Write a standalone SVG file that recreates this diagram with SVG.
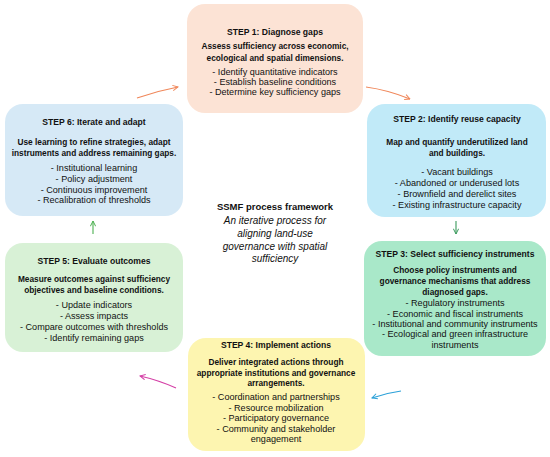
<svg xmlns="http://www.w3.org/2000/svg" width="550" height="457" viewBox="0 0 550 457">
<defs>
<style>
text{font-family:"Liberation Sans",Arial,sans-serif;text-anchor:middle;fill:#111;}
.t{font-weight:bold;font-size:8.6px;}
.s{font-weight:bold;font-size:8.3px;}
.b{font-size:9.1px;}
.ct{font-weight:bold;font-size:9.5px;}
.ci{font-style:italic;font-size:10px;}
.box{stroke:none;}
.arr{fill:none;stroke-width:1.1;}
</style>
<marker id="mo" viewBox="0 0 10 10" refX="9" refY="5" markerWidth="6" markerHeight="6" orient="auto"><path d="M1,1 L9,5 L1,9" fill="none" stroke="#f0875a" stroke-width="1.5"/></marker>
<marker id="mg" viewBox="0 0 10 10" refX="9" refY="5" markerWidth="6" markerHeight="6" orient="auto"><path d="M1,1 L9,5 L1,9" fill="none" stroke="#3a9a5c" stroke-width="1.5"/></marker>
<marker id="mb" viewBox="0 0 10 10" refX="9" refY="5" markerWidth="6" markerHeight="6" orient="auto"><path d="M1,1 L9,5 L1,9" fill="none" stroke="#2aa0d8" stroke-width="1.5"/></marker>
<marker id="mm" viewBox="0 0 10 10" refX="9" refY="5" markerWidth="6" markerHeight="6" orient="auto"><path d="M1,1 L9,5 L1,9" fill="none" stroke="#d43fa6" stroke-width="1.5"/></marker>
<marker id="ml" viewBox="0 0 10 10" refX="9" refY="5" markerWidth="6" markerHeight="6" orient="auto"><path d="M1,1 L9,5 L1,9" fill="none" stroke="#4cb050" stroke-width="1.5"/></marker>
</defs>
<rect width="550" height="457" fill="#fff"/>

<g id="step1">
<rect class="box" x="187" y="4" width="176" height="109" rx="18" fill="#fce3d5"/>
<text class="t" x="275" y="35">STEP 1: Diagnose gaps</text>
<text class="s" x="275" y="49">Assess sufficiency across economic,</text>
<text class="s" x="275" y="61">ecological and spatial dimensions.</text>
<text class="b" x="275" y="75">- Identify quantitative indicators</text>
<text class="b" x="275" y="85">- Establish baseline conditions</text>
<text class="b" x="275" y="95">- Determine key sufficiency gaps</text>
</g>

<g id="step2">
<rect class="box" x="367" y="104" width="179" height="113" rx="18" fill="#c1eaf8"/>
<text class="t" x="457" y="122">STEP 2: Identify reuse capacity</text>
<text class="s" x="457" y="145">Map and quantify underutilized land</text>
<text class="s" x="457" y="156">and buildings.</text>
<text class="b" x="457" y="175">- Vacant buildings</text>
<text class="b" x="457" y="186">- Abandoned or underused lots</text>
<text class="b" x="457" y="197">- Brownfield and derelict sites</text>
<text class="b" x="457" y="208">- Existing infrastructure capacity</text>
</g>

<g id="step3">
<rect class="box" x="364" y="241" width="182" height="115" rx="18" fill="#a9e8c9"/>
<text class="t" x="455" y="257">STEP 3: Select sufficiency instruments</text>
<text class="s" x="455" y="273">Choose policy instruments and</text>
<text class="s" x="455" y="284">governance mechanisms that address</text>
<text class="s" x="455" y="295">diagnosed gaps.</text>
<text class="b" x="455" y="306">- Regulatory instruments</text>
<text class="b" x="455" y="317">- Economic and fiscal instruments</text>
<text class="b" x="455" y="327">- Institutional and community instruments</text>
<text class="b" x="455" y="337">- Ecological and green infrastructure</text>
<text class="b" x="455" y="348">instruments</text>
</g>

<g id="step4">
<rect class="box" x="188" y="338" width="177" height="113" rx="18" fill="#fdf5b0"/>
<text class="t" x="276" y="348">STEP 4: Implement actions</text>
<text class="s" x="276" y="365">Deliver integrated actions through</text>
<text class="s" x="276" y="376">appropriate institutions and governance</text>
<text class="s" x="276" y="386">arrangements.</text>
<text class="b" x="276" y="400">- Coordination and partnerships</text>
<text class="b" x="276" y="411">- Resource mobilization</text>
<text class="b" x="276" y="421">- Participatory governance</text>
<text class="b" x="276" y="432">- Community and stakeholder</text>
<text class="b" x="276" y="442">engagement</text>
</g>

<g id="step5">
<rect class="box" x="5" y="243" width="178" height="109" rx="18" fill="#d8f1d6"/>
<text class="t" x="94" y="264">STEP 5: Evaluate outcomes</text>
<text class="s" x="94" y="282">Measure outcomes against sufficiency</text>
<text class="s" x="94" y="293">objectives and baseline conditions.</text>
<text class="b" x="94" y="308">- Update indicators</text>
<text class="b" x="94" y="319">- Assess impacts</text>
<text class="b" x="94" y="330">- Compare outcomes with thresholds</text>
<text class="b" x="94" y="341">- Identify remaining gaps</text>
</g>

<g id="step6">
<rect class="box" x="5" y="104" width="178" height="112" rx="18" fill="#d6e9f6"/>
<text class="t" x="94" y="125">STEP 6: Iterate and adapt</text>
<text class="s" x="94" y="145">Use learning to refine strategies, adapt</text>
<text class="s" x="94" y="156">instruments and address remaining gaps.</text>
<text class="b" x="94" y="171">- Institutional learning</text>
<text class="b" x="94" y="182">- Policy adjustment</text>
<text class="b" x="94" y="193">- Continuous improvement</text>
<text class="b" x="94" y="203">- Recalibration of thresholds</text>
</g>

<g id="center">
<text class="ct" x="275" y="210">SSMF process framework</text>
<text class="ci" x="275" y="224">An iterative process for</text>
<text class="ci" x="275" y="237">aligning land-use</text>
<text class="ci" x="275" y="250">governance with spatial</text>
<text class="ci" x="275" y="262">sufficiency</text>
</g>

<g id="connectors">
<path class="arr" d="M366,87 Q388,90 410,99" stroke="#f0875a" marker-end="url(#mo)"/>
<path class="arr" d="M456,221 L456,234" stroke="#3a9a5c" marker-end="url(#mg)"/>
<path class="arr" d="M401,391 Q386,393 372,398" stroke="#2aa0d8" marker-end="url(#mb)"/>
<path class="arr" d="M176,388 Q158,380 140,376" stroke="#d43fa6" marker-end="url(#mm)"/>
<path class="arr" d="M93,234 L93,221" stroke="#4cb050" marker-end="url(#ml)"/>
<path class="arr" d="M137,98 Q157,91 178,87" stroke="#f0875a" marker-end="url(#mo)"/>
</g>
</svg>
